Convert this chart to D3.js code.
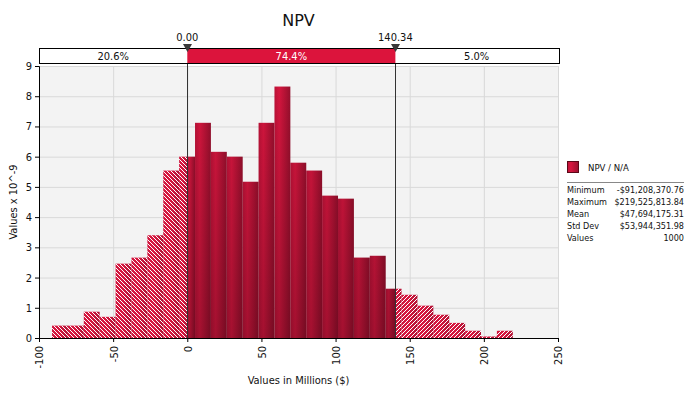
<!DOCTYPE html>
<html>
<head>
<meta charset="utf-8">
<style>
body { margin: 0; background: white; }
text { font-family: "DejaVu Sans", sans-serif; font-stretch: condensed; fill: #111; }
.grid line { stroke: #d9d9d9; }
</style>
<script src="https://d3js.org/d3.v7.min.js"></script>
</head>
<body>
<svg id="chart" width="693" height="394"></svg>
<script>
// bin edges (millions $) and density heights (x 10^-9)
var binEdges = [-91.21, -80.50, -69.78, -59.07, -48.35, -37.64, -26.92, -16.21, -5.50, 5.22,
  15.93, 26.65, 37.36, 48.08, 58.79, 69.50, 80.22, 90.93, 101.65, 112.36,
  123.08, 133.79, 144.50, 155.22, 165.93, 176.65, 187.36, 198.08, 208.79, 219.53];
var density = [0.41, 0.41, 0.87, 0.70, 2.46, 2.66, 3.40, 5.54, 6.00,
  7.12, 6.16, 6.00, 5.17, 7.12, 8.32, 5.80, 5.54, 4.71, 4.61,
  2.66, 2.72, 1.63, 1.43, 1.07, 0.77, 0.50, 0.24, 0.05, 0.24];
var markers = [0, 140.34];
var markerLabels = ["0.00", "140.34"];
var segmentLabels = ["20.6%", "74.4%", "5.0%"];
var xTicks = [-100, -50, 0, 50, 100, 150, 200, 250];
var yTicks = [0, 1, 2, 3, 4, 5, 6, 7, 8, 9];
var statNames = ["Minimum", "Maximum", "Mean", "Std Dev", "Values"];
var statValues = ["-$91,208,370.76", "$219,525,813.84", "$47,694,175.31", "$53,944,351.98", "1000"];

var svg = d3.select("#chart");
var L = 39, R = 558, T = 66, B = 338;
var x = d3.scaleLinear().domain([-100, 250]).range([L, R]);
var y = d3.scaleLinear().domain([0, 9]).range([B, T]);

var defs = svg.append("defs");
var g1 = defs.append("linearGradient").attr("id", "barGrad").attr("x1", 0).attr("x2", 1).attr("y1", 0).attr("y2", 0);
g1.append("stop").attr("offset", 0).attr("stop-color", "#bd1238");
g1.append("stop").attr("offset", 0.3).attr("stop-color", "#d8163f");
g1.append("stop").attr("offset", 1).attr("stop-color", "#980f2d");
var g3 = defs.append("linearGradient").attr("id", "hatchGrad").attr("x1", 0).attr("x2", 1).attr("y1", 0).attr("y2", 0);
g3.append("stop").attr("offset", 0).attr("stop-color", "#d0173f");
g3.append("stop").attr("offset", 0.4).attr("stop-color", "#d8173f");
g3.append("stop").attr("offset", 1).attr("stop-color", "#b01335");
var g2 = defs.append("linearGradient").attr("id", "shade").attr("gradientUnits", "userSpaceOnUse")
  .attr("x1", 0).attr("x2", 0).attr("y1", T).attr("y2", B);
g2.append("stop").attr("offset", 0).attr("stop-color", "#000").attr("stop-opacity", 0);
g2.append("stop").attr("offset", 1).attr("stop-color", "#000").attr("stop-opacity", 0.24);

// 1px stair-step hatching, one white pixel per row of a 4x4 tile
[["hatchL", i => i], ["hatchR", i => 3 - i]].forEach(function(h) {
  var p = defs.append("pattern").attr("id", h[0]).attr("patternUnits", "userSpaceOnUse")
    .attr("width", 4).attr("height", 4);
  p.selectAll("rect").data([0, 1, 2, 3]).enter().append("rect")
    .attr("x", h[1]).attr("y", i => i).attr("width", 1).attr("height", 1)
    .attr("fill", "white").attr("shape-rendering", "crispEdges");
});

// plot background + grid
svg.append("rect").attr("x", L).attr("y", T).attr("width", R - L).attr("height", B - T).attr("fill", "#f3f3f3");
var grid = svg.append("g").attr("class", "grid");
grid.selectAll(".gx").data(xTicks.slice(1)).enter().append("line")
  .attr("x1", d => x(d) + 0.5).attr("x2", d => x(d) + 0.5).attr("y1", T).attr("y2", B);
grid.selectAll(".gy").data(yTicks.slice(1)).enter().append("line")
  .attr("x1", L).attr("x2", R).attr("y1", d => y(d) + 0.5).attr("y2", d => y(d) + 0.5);

// split bins at the markers
var pieces = [];
density.forEach(function(h, i) {
  var cuts = [binEdges[i]];
  markers.forEach(function(m) { if (m > binEdges[i] && m < binEdges[i + 1]) cuts.push(m); });
  cuts.push(binEdges[i + 1]);
  for (var k = 0; k < cuts.length - 1; k++) {
    var a = cuts[k], b = cuts[k + 1];
    var zone = b <= markers[0] ? "L" : (a >= markers[1] ? "R" : "M");
    pieces.push({ a: a, b: b, h: h, zone: zone });
  }
});

var bars = svg.append("g");
bars.selectAll(".bar").data(pieces).enter().append("rect")
  .attr("x", d => x(d.a)).attr("width", d => x(d.b) - x(d.a))
  .attr("y", d => y(d.h)).attr("height", d => y(0) - y(d.h))
  .attr("fill", d => d.zone == "M" ? "url(#barGrad)" : "url(#hatchGrad)");
bars.selectAll(".sh").data(pieces.filter(d => d.zone == "M")).enter().append("rect")
  .attr("x", d => x(d.a)).attr("width", d => x(d.b) - x(d.a))
  .attr("y", d => y(d.h)).attr("height", d => y(0) - y(d.h))
  .attr("fill", "url(#shade)");
bars.selectAll(".ht").data(pieces.filter(d => d.zone != "M")).enter().append("rect")
  .attr("x", d => x(d.a)).attr("width", d => x(d.b) - x(d.a))
  .attr("y", d => y(d.h)).attr("height", d => y(0) - y(d.h))
  .attr("fill", d => d.zone == "L" ? "url(#hatchL)" : "url(#hatchR)");

// axes
var yAxis = svg.append("g").attr("transform", "translate(" + L + ",0)")
  .call(d3.axisLeft(y).tickValues(yTicks).tickSize(4).tickFormat(d => String(d)));
var xAxis = svg.append("g").attr("transform", "translate(0," + B + ")")
  .call(d3.axisBottom(x).tickValues(xTicks).tickSize(4).tickFormat(d => String(d)));
[yAxis, xAxis].forEach(function(a) {
  a.select(".domain").attr("stroke", "#000");
  a.selectAll(".tick line").attr("stroke", "#000");
  a.selectAll("text").style("font-size", "11px").attr("fill", "#111");
});
xAxis.selectAll("text").attr("transform", "rotate(-90)").attr("text-anchor", "end")
  .attr("x", -8).attr("y", 0).attr("dy", "0.35em");

// marker lines
svg.selectAll(".mline").data(markers).enter().append("line")
  .attr("x1", d => Math.round(x(d)) + 0.5).attr("x2", d => Math.round(x(d)) + 0.5)
  .attr("y1", 63).attr("y2", B).attr("stroke", "#333").attr("stroke-width", 1);

// top band
svg.append("rect").attr("x", L + 0.5).attr("y", 48.5).attr("width", R + 1 - L).attr("height", 15).attr("fill", "white");
svg.append("rect").attr("x", x(markers[0])).attr("y", 48.5).attr("width", x(markers[1]) - x(markers[0])).attr("height", 15).attr("fill", "#dc143c");
svg.append("rect").attr("x", L + 0.5).attr("y", 48.5).attr("width", R + 1 - L).attr("height", 15)
  .attr("fill", "none").attr("stroke", "#000").attr("stroke-width", 1);
var segBounds = [L, x(markers[0]), x(markers[1]), R];
svg.selectAll(".seg").data(segmentLabels).enter().append("text")
  .attr("x", (d, i) => (segBounds[i] + segBounds[i + 1]) / 2).attr("y", 56.5)
  .attr("text-anchor", "middle").attr("dominant-baseline", "central")
  .style("font-size", "11px").style("fill", (d, i) => i == 1 ? "#fff" : "#111").text(d => d);
svg.selectAll(".tri").data(markers).enter().append("path")
  .attr("d", d => { var cx = Math.round(x(d)) + 0.5; return "M" + (cx - 4.5) + ",44L" + (cx + 4.5) + ",44L" + cx + ",52Z"; })
  .attr("fill", "#3a3a3a");
svg.selectAll(".mlab").data(markerLabels).enter().append("text")
  .attr("x", (d, i) => x(markers[i])).attr("y", 37).attr("text-anchor", "middle")
  .attr("dominant-baseline", "central").style("font-size", "11px").text(d => d);

// titles
svg.append("text").attr("x", (L + R) / 2).attr("y", 20).attr("text-anchor", "middle")
  .attr("dominant-baseline", "central").style("font-size", "16px").style("font-stretch", "normal").text("NPV");
svg.append("text").attr("x", (L + R) / 2).attr("y", 380).attr("text-anchor", "middle")
  .attr("dominant-baseline", "central").style("font-size", "11px").text("Values in Millions ($)");
svg.append("text").attr("transform", "translate(13," + (T + B) / 2 + ") rotate(-90)").attr("text-anchor", "middle")
  .attr("dominant-baseline", "central").style("font-size", "11px").text("Values x 10^-9");

// legend
svg.append("rect").attr("x", 567.5).attr("y", 161.5).attr("width", 11).attr("height", 11)
  .attr("fill", "url(#barGrad)").attr("stroke", "#5a0818");
svg.append("text").attr("x", 588).attr("y", 167).attr("dominant-baseline", "central")
  .style("font-size", "9.5px").text("NPV / N/A");
svg.append("line").attr("x1", 567).attr("x2", 684).attr("y1", 182.5).attr("y2", 182.5).attr("stroke", "#888");
svg.selectAll(".sn").data(statNames).enter().append("text")
  .attr("x", 567).attr("y", (d, i) => 189.5 + i * 12.1).attr("dominant-baseline", "central")
  .style("font-size", "9px").text(d => d);
svg.selectAll(".sv").data(statValues).enter().append("text")
  .attr("x", 684).attr("y", (d, i) => 189.5 + i * 12.1).attr("dominant-baseline", "central")
  .attr("text-anchor", "end").style("font-size", "9px").text(d => d);
</script>
</body>
</html>
